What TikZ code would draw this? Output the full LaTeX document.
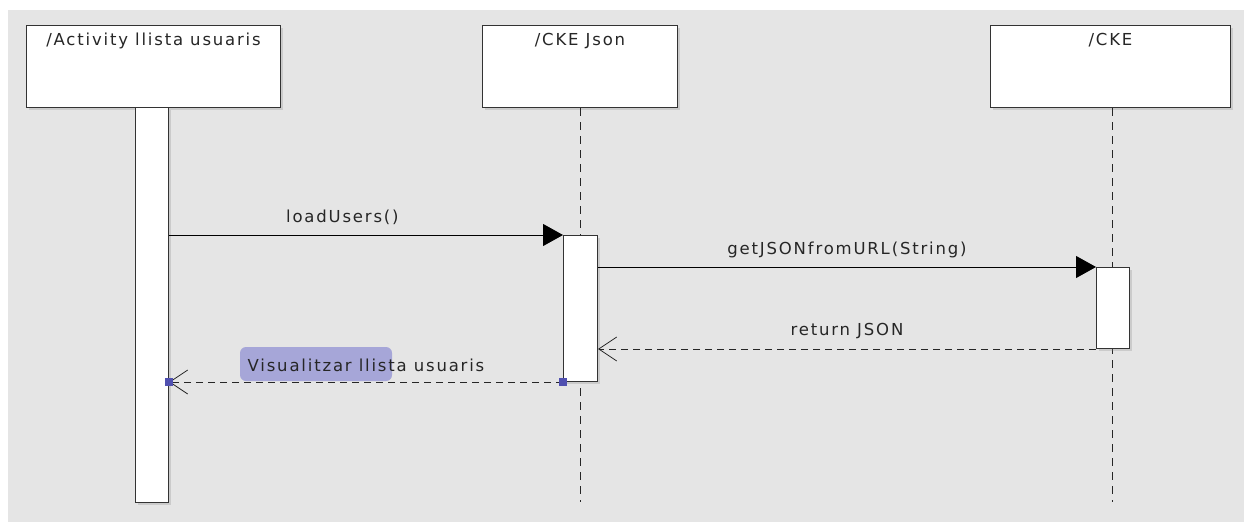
\documentclass[tikz,border=0pt]{standalone}
\usepackage{fontspec}
\setmainfont{DejaVu Sans}[LetterSpace=11]
\usetikzlibrary{arrows.meta,shadows}
\definecolor{canvas}{RGB}{229,229,229}
\definecolor{selfill}{RGB}{166,166,216}
\definecolor{selmark}{RGB}{80,80,176}

\begin{document}
\begin{tikzpicture}[x=1pt,y=-1pt]
  \tikzstyle{every node}+=[inner sep=0pt, font=\fontsize{16.5}{19}\selectfont, text=black!85]
  \tikzstyle{obj}=[draw=black!80, fill=white, line width=1pt, anchor=north west,
    drop shadow={shadow xshift=2pt, shadow yshift=-2pt, opacity=0.25}]
  \tikzstyle{life}=[draw=black!85, line width=1pt, dash pattern=on 8pt off 6pt]
  \tikzstyle{call}=[draw=black, line width=1pt, -{Triangle[length=20pt,width=22pt]}]
  \tikzstyle{reply}=[draw=black!85, line width=1pt, dash pattern=on 7pt off 5pt,
    -{Straight Barb[length=18pt,width=24pt,line width=0.8pt]}]
  \useasboundingbox (0,0) rectangle (1244,522);
  \fill [white] (0,0) rectangle (1244,522);
  \fill [canvas] (8,10) rectangle (1244,522);
  % lifeline heads
  \node [obj, minimum width=254, minimum height=82] (activity) at (26,25) {};
  \node [below] (activitytxt) at ([yshift=-8pt]activity.north) {/Activity llista usuaris};
  \node [obj, minimum width=195, minimum height=82] (ckejson) at (482,25) {};
  \node [below] (ckejsontxt) at ([yshift=-8pt]ckejson.north) {/CKE Json};
  \node [obj, minimum width=240, minimum height=82] (cke) at (990,25) {};
  \node [below] (cketxt) at ([yshift=-8pt]cke.north) {/CKE};
  % lifelines
  \coordinate (ckejsonend) at (580,502);
  \coordinate (ckeend) at (1112,502);
  \draw [life] (ckejson.south -| ckejsonend) -- (ckejsonend);
  \draw [life] (cke.south -| ckeend) -- (ckeend);
  % activation bars
  \node [obj, minimum width=33, minimum height=395] (activitybar) at (135,107) {};
  \node [obj, minimum width=34, minimum height=146] (ckejsonbar) at (563,235) {};
  \node [obj, minimum width=33, minimum height=81] (ckebar) at (1096,267) {};
  % messages
  \draw [call] (activitybar.east |- ckejsonbar.north) -- (ckejsonbar.north west)
    node [pos=0.44, above=10pt] {loadUsers()};
  \draw [call] (ckejsonbar.east |- ckebar.north) -- (ckebar.north west)
    node [midway, above=9pt] {getJSONfromURL(String)};
  \draw [reply] (ckebar.south west) -- (ckejsonbar.east |- ckebar.south)
    node [midway, above=10pt] {return JSON};
  \fill [selfill, rounded corners=6pt] (240,347) rectangle (392,381);
  \draw [reply] (ckejsonbar.south west) -- (activitybar.east |- ckejsonbar.south)
    node [midway, above=10pt] {Visualitzar llista usuaris};
  \fill [selmark] ([shift={(-4,-4)}]ckejsonbar.south west) rectangle ++(8,8);
  \fill [selmark] ([shift={(-4,-4)}]activitybar.east |- ckejsonbar.south) rectangle ++(8,8);
\end{tikzpicture}
\end{document}
